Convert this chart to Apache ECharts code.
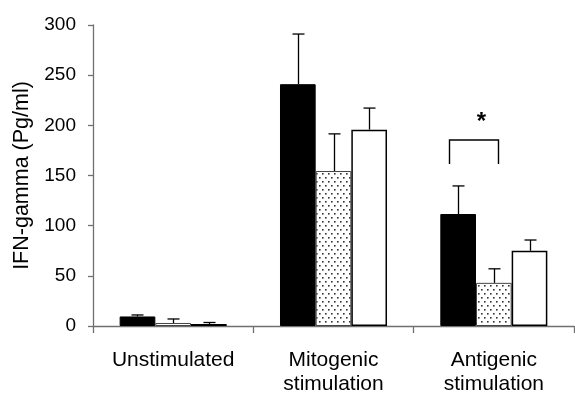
<!DOCTYPE html>
<html>
<head>
<meta charset="utf-8">
<script src="https://cdn.jsdelivr.net/npm/echarts@6/dist/echarts.min.js"></script>
<style>html,body{margin:0;padding:0;background:#fff;}#c{width:575px;height:400px;}</style>
</head>
<body>
<div id="c"></div>
<script>
// ---- data ----
var categories = ['Unstimulated', 'Mitogenic\nstimulation', 'Antigenic\nstimulation'];
var seriesNames = ['Group A', 'Group B', 'Group C'];
var meanA = [9.5, 241, 111.6];
var meanB = [3, 154.5, 43];
var meanC = [2, 195.7, 75];
var errA = [1.5, 50, 28];
var errB = [4, 37, 14];
var errC = [1.5, 21.5, 10.7];
var yTicks = [0, 50, 100, 150, 200, 250, 300];
var bracketCategory = [2];
var bracketTop = [185.4];
var bracketBottom = [161.5];
var starLabel = ['*'];
var starValue = [203];

// ---- style helpers ----
var pat = document.createElement('canvas');
pat.width = 6; pat.height = 8;
var pctx = pat.getContext('2d');
pctx.fillStyle = '#fff'; pctx.fillRect(0, 0, 6, 8);
pctx.fillStyle = '#333';
pctx.fillRect(1, 1, 1.6, 1.6);
pctx.fillRect(4, 5, 1.6, 1.6);

var BAR_FRAC = 0.2225;
var means = [meanA, meanB, meanC];
var errs = [errA, errB, errC];

function errData(k) {
  return means[k].map(function (m, i) { return [i, m, m + errs[k][i]]; });
}
function errRender(k) {
  return function (params, api) {
    var band = api.size([1, 0])[0];
    var off = (k - 1) * band * BAR_FRAC;
    var p0 = api.coord([api.value(0), api.value(1)]);
    var p1 = api.coord([api.value(0), api.value(2)]);
    var x = Math.round(p0[0] + off) + 0.5;
    var cap = 6;
    return {
      type: 'group',
      children: [
        { type: 'line', shape: { x1: x, y1: p0[1], x2: x, y2: p1[1] }, style: { stroke: '#000', lineWidth: 1.3 } },
        { type: 'line', shape: { x1: x - cap, y1: p1[1], x2: x + cap, y2: p1[1] }, style: { stroke: '#000', lineWidth: 1.3 } }
      ]
    };
  };
}

var series = [
  { name: seriesNames[0], type: 'bar', data: meanA, barWidth: (BAR_FRAC * 100) + '%', barGap: '0%',
    itemStyle: { color: '#000', borderColor: '#000', borderWidth: 1 } },
  { name: seriesNames[1], type: 'bar', data: meanB, barWidth: (BAR_FRAC * 100) + '%', barGap: '0%',
    itemStyle: { color: { image: pat, repeat: 'repeat' }, borderColor: '#444', borderWidth: 1 } },
  { name: seriesNames[2], type: 'bar', data: meanC, barWidth: (BAR_FRAC * 100) + '%', barGap: '0%',
    itemStyle: { color: '#fff', borderColor: '#000', borderWidth: 1.5 } }
];
for (var k = 0; k < 3; k++) {
  series.push({ type: 'custom', data: errData(k), renderItem: errRender(k), z: 5, silent: true,
    encode: { x: 0, y: [1, 2] } });
}
series.push({
  type: 'custom', z: 6, silent: true,
  data: bracketCategory.map(function (c, i) { return [c, bracketTop[i], bracketBottom[i], starValue[i]]; }),
  encode: { x: 0, y: [1, 2, 3] },
  renderItem: function (params, api) {
    var band = api.size([1, 0])[0];
    var top = api.coord([api.value(0), api.value(1)]);
    var bot = api.coord([api.value(0), api.value(2)]);
    var st = api.coord([api.value(0), api.value(3)]);
    var cx = top[0];
    var xl = Math.round(cx - 0.282 * band) + 0.5;
    var xr = Math.round(cx + 0.026 * band) + 0.5;
    return {
      type: 'group',
      children: [
        { type: 'polyline', shape: { points: [[xl, bot[1]], [xl, top[1]], [xr, top[1]], [xr, bot[1]]] },
          style: { stroke: '#000', lineWidth: 1.4, fill: null } },
        { type: 'text', x: cx - 0.078 * band, y: st[1],
          style: { text: starLabel[params.dataIndex], fill: '#000', font: 'bold 24px "Liberation Sans", Arial, sans-serif',
            textAlign: 'center', textVerticalAlign: 'middle' } }
      ]
    };
  }
});

var chart = echarts.init(document.getElementById('c'), null, { renderer: 'canvas' });
chart.setOption({
  animation: false,
  backgroundColor: '#fff',
  grid: { left: 93, right: 1, top: 25, bottom: 74, containLabel: false },
  xAxis: {
    type: 'category', data: categories,
    axisLine: { lineStyle: { color: '#707070', width: 1.3 } },
    axisTick: { show: true, length: 7, lineStyle: { color: '#707070', width: 1.3 } },
    axisLabel: { color: '#000', fontSize: 21, lineHeight: 24, margin: 22,
      fontFamily: '"Liberation Sans", Arial, sans-serif', interval: 0 }
  },
  yAxis: {
    type: 'value', min: yTicks[0], max: yTicks[yTicks.length - 1], interval: yTicks[1] - yTicks[0],
    name: 'IFN-gamma (Pg/ml)', nameLocation: 'middle', nameGap: 51, nameRotate: 90,
    nameTextStyle: { color: '#000', fontSize: 21.5, fontFamily: '"Liberation Sans", Arial, sans-serif' },
    axisLine: { show: true, lineStyle: { color: '#707070', width: 1.3 } },
    axisTick: { show: true, length: 5, lineStyle: { color: '#707070', width: 1.3 } },
    splitLine: { show: false },
    axisLabel: { color: '#000', fontSize: 19, margin: 17, fontFamily: '"Liberation Sans", Arial, sans-serif' }
  },
  series: series
});
</script>
</body>
</html>
